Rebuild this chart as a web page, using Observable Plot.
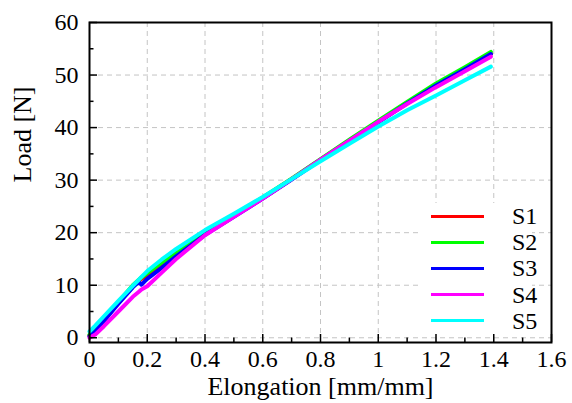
<!DOCTYPE html>
<html><head><meta charset="utf-8">
<script src="https://cdn.jsdelivr.net/npm/d3@7"></script>
<script src="https://cdn.jsdelivr.net/npm/@observablehq/plot@0.6"></script>
<style>
body{margin:0;background:#fff;}
#chart{position:relative;width:572px;height:403px;font-family:"Liberation Serif","Times New Roman",serif;}
#legend{position:absolute;left:420px;top:203px;width:112px;height:130px;background:#fff;}
.row{position:absolute;left:0;height:26px;width:112px;}
.swatch{position:absolute;left:11px;width:53px;height:3px;top:11.5px;}
.lab{position:absolute;left:92px;top:0;line-height:26px;font-size:24px;color:#000;font-family:"Liberation Serif","Times New Roman",serif;}
</style></head><body><div id="chart"></div>
<script>
// ---- data ----
const elongation = [0, 0.02, 0.05, 0.1, 0.15, 0.17, 0.18, 0.2, 0.25, 0.3, 0.4, 0.5, 0.6, 0.7, 0.8, 0.9, 1.0, 1.1, 1.2, 1.3, 1.39];
const loadS1 = [0.4, 1.3, 3.3, 6.6, 9.8, 10.8, 11.2, 11.9, 14.0, 16.0, 19.8, 23.2, 26.6, 30.2, 33.9, 37.5, 41.1, 44.7, 48.1, 51.2, 54.0];
const loadS2 = [0.6, 1.6, 3.5, 6.8, 10.0, 11.0, 11.5, 12.3, 14.3, 16.2, 19.9, 23.3, 26.7, 30.3, 34.0, 37.7, 41.3, 44.9, 48.4, 51.5, 54.4];
const loadS3 = [0.3, 1.2, 3.2, 6.5, 9.6, 10.6, 10.1, 11.2, 13.3, 15.5, 19.6, 23.0, 26.5, 30.1, 33.8, 37.4, 41.0, 44.6, 48.0, 51.1, 54.0];
const loadS4 = [0.0, 0.6, 2.2, 5.0, 7.8, 8.7, 9.2, 9.8, 12.4, 15.0, 19.5, 23.0, 26.5, 30.2, 33.9, 37.5, 41.1, 44.5, 47.7, 50.7, 53.5];
const loadS5 = [1.2, 2.3, 4.1, 7.0, 9.9, 11.0, 11.6, 12.7, 14.9, 16.9, 20.5, 23.6, 26.8, 30.2, 33.6, 36.9, 40.2, 43.3, 46.1, 49.0, 51.6];
const seriesNames = ["S1", "S2", "S3", "S4", "S5"];
const seriesColors = ["#ff0000", "#00ff00", "#0000ff", "#ff00ff", "#00ffff"];
const xMajorTicks = [0, 0.2, 0.4, 0.6, 0.8, 1, 1.2, 1.4, 1.6];
const xMinorTicks = [0.1, 0.3, 0.5, 0.7, 0.9, 1.1, 1.3, 1.5];
const yMajorTicks = [0, 10, 20, 30, 40, 50, 60];
const yMinorTicks = [5, 15, 25, 35, 45, 55];
const xLabel = "Elongation [mm/mm]";
const yLabel = "Load [N]";

const loads = [loadS1, loadS2, loadS3, loadS4, loadS5];
const data = seriesNames.flatMap((name, i) => elongation.map((x, j) => ({series: name, x, y: loads[i][j]})));

const FONT = "Liberation Serif, Times New Roman, serif";
const W = 572, H = 403, mL = 89, mR = 21, mT = 22, mB = 61;
const innerH = H - mT - mB, innerW = W - mL - mR;
const grid = {stroke: "#c4c4c4", strokeOpacity: 1, strokeWidth: 1, strokeDasharray: "5,4"};

const plot = Plot.plot({
  width: W, height: H,
  marginLeft: mL, marginRight: mR, marginTop: mT, marginBottom: mB,
  style: {fontFamily: FONT, fontSize: "24px", background: "white", color: "black", overflow: "visible"},
  x: {domain: [0, 1.6]},
  y: {domain: [-0.9, 60]},
  color: {domain: seriesNames, range: seriesColors},
  marks: [
    Plot.gridX(xMajorTicks, grid),
    Plot.gridY(yMajorTicks, grid),
    Plot.axisX(xMajorTicks, {tickSize: 0, tickPadding: 7, tickFormat: d => String(d), label: null, fontSize: 24, fontFamily: FONT}),
    Plot.axisY(yMajorTicks, {tickSize: 0, tickPadding: 11, tickFormat: d => String(d), label: null, fontSize: 24, fontFamily: FONT}),
    Plot.line(data, {x: "x", y: "y", z: "series", stroke: "series", strokeWidth: 4, strokeLinejoin: "round"}),
    Plot.tickX(xMajorTicks, {x: d => d, insetTop: innerH - 8, stroke: "black", strokeWidth: 1.5}),
    Plot.tickX(xMinorTicks, {x: d => d, insetTop: innerH - 4.5, stroke: "black", strokeWidth: 1.5}),
    Plot.tickY(yMajorTicks, {y: d => d, insetRight: innerW - 8, stroke: "black", strokeWidth: 1.5}),
    Plot.tickY(yMinorTicks, {y: d => d, insetRight: innerW - 4.5, stroke: "black", strokeWidth: 1.5}),
    Plot.frame({stroke: "black", strokeWidth: 2}),
    Plot.text([xLabel], {text: d => d, frameAnchor: "bottom", dy: 52, fontSize: 26, fontFamily: FONT, fill: "black"}),
    Plot.text([yLabel], {text: d => d, frameAnchor: "left", rotate: -90, dx: -67, fontSize: 26, fontFamily: FONT, fill: "black"})
  ]
});

const chart = document.getElementById("chart");
chart.appendChild(plot);

// legend (inside plot, lower right, white box)
const legend = document.createElement("div");
legend.id = "legend";
seriesNames.forEach((name, i) => {
  const row = document.createElement("div");
  row.className = "row";
  row.style.top = (i * 26.2) + "px";
  const sw = document.createElement("div");
  sw.className = "swatch";
  sw.style.background = seriesColors[i];
  const lab = document.createElement("div");
  lab.className = "lab";
  lab.textContent = name;
  row.appendChild(sw);
  row.appendChild(lab);
  legend.appendChild(row);
});
chart.appendChild(legend);
</script></body></html>
